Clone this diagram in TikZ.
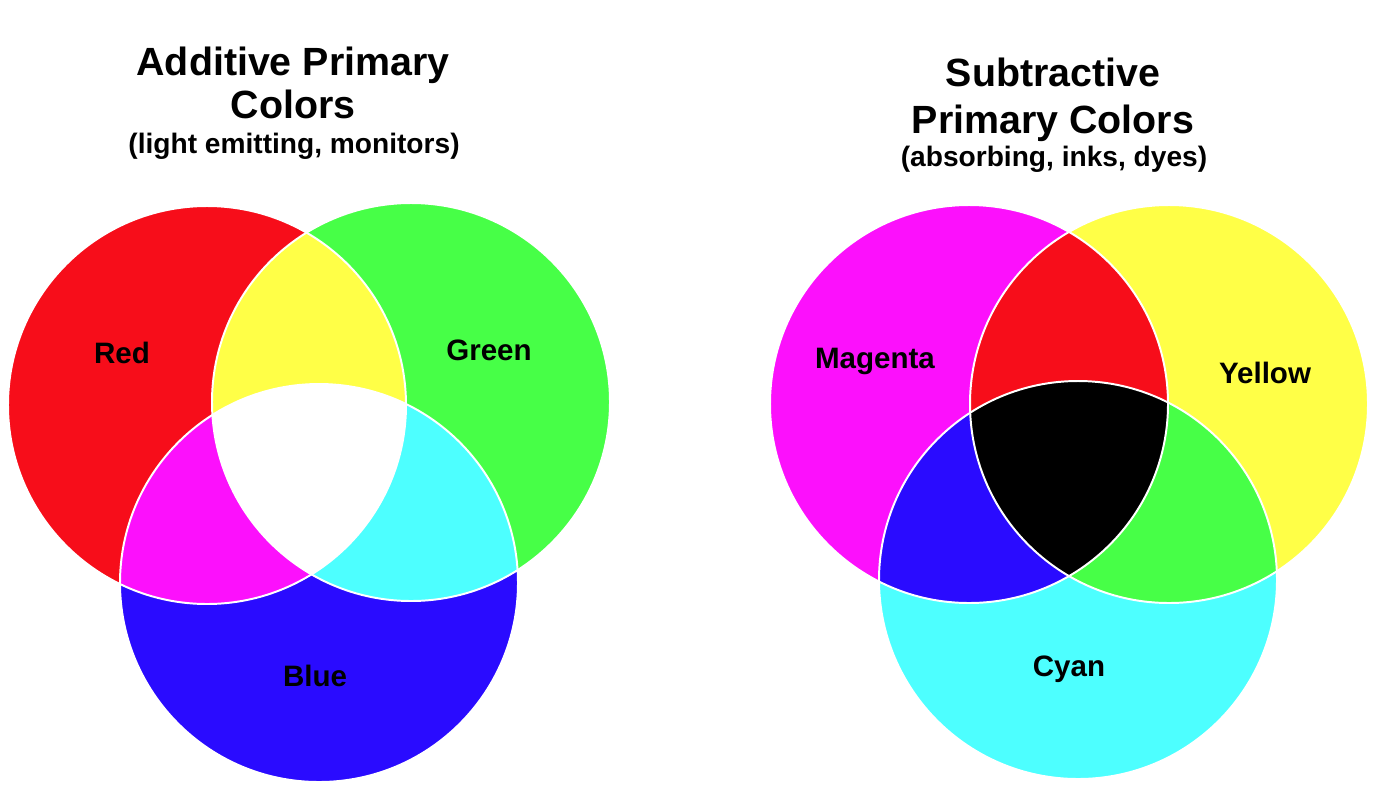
\documentclass[tikz,border=0pt]{standalone}
\usepackage{fontspec}
\setmainfont{Liberation Sans}
\usetikzlibrary{positioning}
\definecolor{lightred}{HTML}{F70D1A}
\definecolor{lightgreen}{HTML}{47FF47}
\definecolor{lightblue}{HTML}{2A0BFF}
\definecolor{inkyellow}{HTML}{FFFF47}
\definecolor{inkmagenta}{HTML}{FC10FC}
\definecolor{inkcyan}{HTML}{4DFFFF}

\begin{document}
\begin{tikzpicture}[x=0.025cm, y=-0.025cm,
    title/.style={font=\fontsize{28}{33}\selectfont\bfseries, anchor=base},
    subtitle/.style={font=\fontsize{20}{24}\selectfont\bfseries, anchor=base},
    colorname/.style={font=\fontsize{21}{25}\selectfont\bfseries, anchor=base},
    seam/.style={draw=white, line width=1.4pt}]

    \useasboundingbox (0,0) rectangle (1400,805);

    % Additive circles
    \coordinate (red) at (207,405);
    \coordinate (green) at (411,402);
    \coordinate (blue) at (319,583);
    \fill[lightred] (red) circle[radius=199];
    \fill[lightgreen] (green) circle[radius=199];
    \fill[lightblue] (blue) circle[radius=199];

    % Additive overlaps
    \begin{scope}
        \clip (red) circle[radius=199];
        \fill[inkyellow] (green) circle[radius=199];
        \fill[inkmagenta] (blue) circle[radius=199];
    \end{scope}
    \begin{scope}
        \clip (green) circle[radius=199];
        \fill[inkcyan] (blue) circle[radius=199];
    \end{scope}
    \begin{scope}
        \clip (red) circle[radius=199];
        \clip (green) circle[radius=199];
        \fill[white] (blue) circle[radius=199];
    \end{scope}
    \foreach \c in {red, green, blue}{
        \draw[seam] (\c) circle[radius=199];
    }

    % Subtractive circles
    \coordinate (magenta) at (969,404);
    \coordinate (yellow) at (1169,404);
    \coordinate (cyan) at (1078,580);
    \fill[inkmagenta] (magenta) circle[radius=199];
    \fill[inkyellow] (yellow) circle[radius=199];
    \fill[inkcyan] (cyan) circle[radius=199];

    % Subtractive overlaps
    \begin{scope}
        \clip (magenta) circle[radius=199];
        \fill[lightred] (yellow) circle[radius=199];
        \fill[lightblue] (cyan) circle[radius=199];
    \end{scope}
    \begin{scope}
        \clip (yellow) circle[radius=199];
        \fill[lightgreen] (cyan) circle[radius=199];
    \end{scope}
    \begin{scope}
        \clip (magenta) circle[radius=199];
        \clip (yellow) circle[radius=199];
        \fill[black] (cyan) circle[radius=199];
    \end{scope}
    \foreach \c in {magenta, yellow, cyan}{
        \draw[seam] (\c) circle[radius=199];
    }

    % Titles
    \node[title] (addtitle) at (293,75) {Additive Primary};
    \node[title] (addtitlenext) at (293,118) {Colors};
    \node[subtitle] (addsub) at (294,153) {(light emitting, monitors)};
    \node[title] (subtitle) at (1053,86) {Subtractive};
    \node[title] (subtitlenext) at (1053,133) {Primary Colors};
    \node[subtitle] (subsub) at (1054,166) {(absorbing, inks, dyes)};

    % Circle names
    \foreach \n/\x/\y/\txt in {redname/122/363/Red, greenname/489/360/Green, bluename/315/686/Blue,
        magentaname/875/368/Magenta, yellowname/1265/383/Yellow, cyanname/1069/676/Cyan}{
        \node[colorname] (\n) at (\x,\y) {\txt};
    }
\end{tikzpicture}
\end{document}
